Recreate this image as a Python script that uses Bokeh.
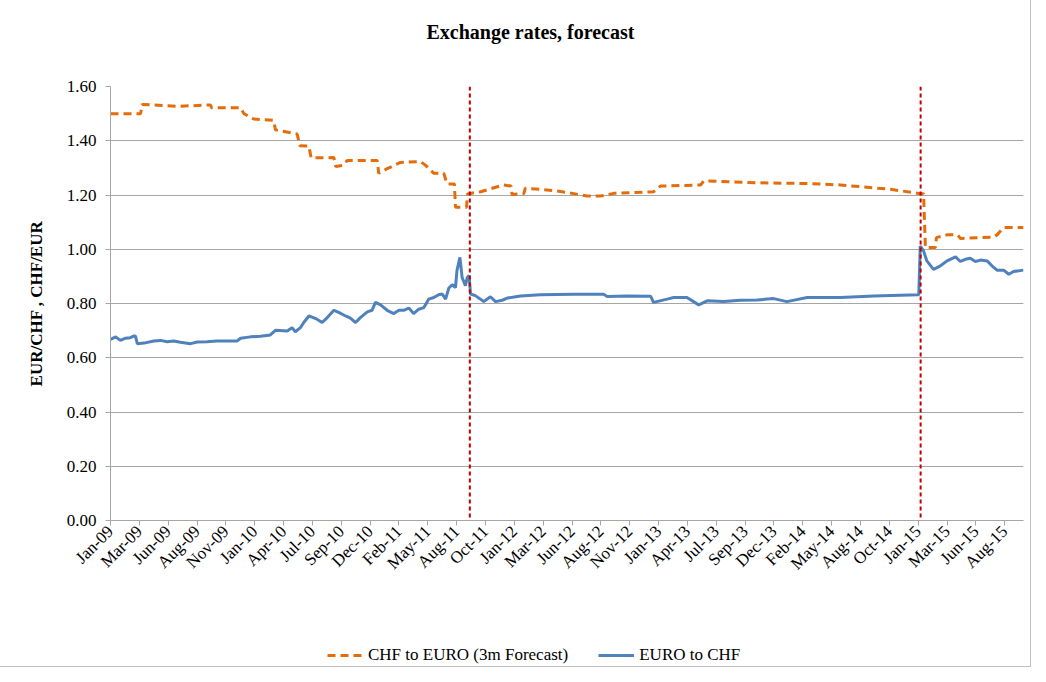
import numpy as np
import pandas as pd
from bokeh.plotting import figure
from bokeh.layouts import column
from bokeh.models import (Range1d, FixedTicker, NumeralTickFormatter, Span,
                          Legend, LegendItem, ColumnDataSource, Title)
from bokeh.embed import file_html
from bokeh.resources import INLINE

# ---------------- data ----------------
title_text = "Exchange rates, forecast"
y_label = "EUR/CHF , CHF/EUR"
series_names = ["CHF to EURO (3m Forecast)", "EURO to CHF"]

tick_labels = ["Jan-09", "Mar-09", "Jun-09", "Aug-09", "Nov-09", "Jan-10", "Apr-10",
               "Jul-10", "Sep-10", "Dec-10", "Feb-11", "May-11", "Aug-11", "Oct-11",
               "Jan-12", "Mar-12", "Jun-12", "Aug-12", "Nov-12", "Jan-13", "Apr-13",
               "Jul-13", "Sep-13", "Dec-13", "Feb-14", "May-14", "Aug-14", "Oct-14",
               "Jan-15", "Mar-15", "Jun-15", "Aug-15"]
y_ticks = [0.0, 0.2, 0.4, 0.6, 0.8, 1.0, 1.2, 1.4, 1.6]

forecast_dates = ["2009-01-01", "2009-03-24", "2009-03-28", "2009-07-01", "2009-09-30",
                  "2009-10-03", "2009-12-21", "2009-12-30", "2010-01-26", "2010-03-21",
                  "2010-03-26", "2010-05-24", "2010-05-31", "2010-06-25", "2010-07-01",
                  "2010-09-01", "2010-09-06", "2010-09-28", "2010-10-07", "2010-12-28",
                  "2011-01-01", "2011-01-24", "2011-03-01", "2011-04-25", "2011-05-08",
                  "2011-05-31", "2011-06-27", "2011-07-06", "2011-07-26", "2011-07-29",
                  "2011-08-28", "2011-08-31", "2011-10-05", "2011-12-07", "2011-12-27",
                  "2011-12-30", "2012-01-31", "2012-02-04", "2012-03-16", "2012-05-01",
                  "2012-06-15", "2012-07-21", "2012-08-26", "2012-10-02", "2013-01-18",
                  "2013-02-06", "2013-05-26", "2013-06-04", "2013-10-27", "2014-03-21",
                  "2014-06-11", "2014-10-25", "2015-01-14", "2015-01-23", "2015-01-28",
                  "2015-02-24", "2015-02-27", "2015-03-28", "2015-04-26", "2015-05-03",
                  "2015-08-02", "2015-08-11", "2015-08-29", "2015-10-22"]
forecast_values = [1.500, 1.500, 1.534, 1.527, 1.532,
                   1.522, 1.522, 1.500, 1.480, 1.475,
                   1.440, 1.425, 1.382, 1.380, 1.337,
                   1.338, 1.305, 1.310, 1.327, 1.327,
                   1.280, 1.297, 1.320, 1.323, 1.310,
                   1.280, 1.280, 1.241, 1.241, 1.155,
                   1.155, 1.204, 1.212, 1.237, 1.233,
                   1.202, 1.205, 1.225, 1.221, 1.215,
                   1.205, 1.196, 1.196, 1.206, 1.212,
                   1.233, 1.237, 1.252, 1.245, 1.242,
                   1.237, 1.221, 1.205, 1.205, 1.006,
                   1.006, 1.043, 1.053, 1.053, 1.040,
                   1.045, 1.053, 1.080, 1.080]

spot_dates = ["2009-01-01", "2009-01-15", "2009-01-28", "2009-02-11", "2009-02-24",
              "2009-03-05", "2009-03-10", "2009-03-15", "2009-04-02", "2009-04-29",
              "2009-05-17", "2009-06-04", "2009-06-22", "2009-07-10", "2009-08-07",
              "2009-08-25", "2009-09-21", "2009-10-18", "2009-12-12", "2009-12-21",
              "2010-01-17", "2010-02-13", "2010-03-12", "2010-03-26", "2010-04-27",
              "2010-05-10", "2010-05-19", "2010-06-02", "2010-06-11", "2010-06-25",
              "2010-07-17", "2010-07-31", "2010-08-14", "2010-09-01", "2010-09-14",
              "2010-10-03", "2010-10-16", "2010-10-30", "2010-11-12", "2010-12-01",
              "2010-12-14", "2010-12-23", "2011-01-06", "2011-01-24", "2011-02-11",
              "2011-02-25", "2011-03-10", "2011-03-24", "2011-04-06", "2011-04-20",
              "2011-05-04", "2011-05-17", "2011-05-31", "2011-06-13", "2011-06-23",
              "2011-07-02", "2011-07-11", "2011-07-20", "2011-07-29", "2011-08-02",
              "2011-08-10", "2011-08-16", "2011-08-25", "2011-08-30", "2011-09-04",
              "2011-09-08", "2011-09-21", "2011-10-05", "2011-10-14", "2011-11-01",
              "2011-11-15", "2011-12-03", "2011-12-17", "2012-01-22", "2012-03-16",
              "2012-06-15", "2012-09-04", "2012-09-14", "2012-11-07", "2013-01-10",
              "2013-01-18", "2013-02-24", "2013-03-14", "2013-04-19", "2013-05-21",
              "2013-06-13", "2013-07-28", "2013-09-11", "2013-10-27", "2013-12-11",
              "2014-01-16", "2014-03-12", "2014-06-11", "2014-09-09", "2015-01-10",
              "2015-01-14", "2015-01-23", "2015-02-01", "2015-02-19", "2015-03-10",
              "2015-03-28", "2015-04-20", "2015-05-03", "2015-05-17", "2015-05-30",
              "2015-06-13", "2015-06-27", "2015-07-15", "2015-07-28", "2015-08-11",
              "2015-08-29", "2015-09-12", "2015-09-25", "2015-10-22"]
spot_values = [0.668, 0.677, 0.664, 0.672, 0.674,
               0.680, 0.680, 0.652, 0.654, 0.662,
               0.664, 0.659, 0.662, 0.657, 0.652,
               0.658, 0.659, 0.662, 0.662, 0.672,
               0.677, 0.679, 0.684, 0.701, 0.699,
               0.711, 0.696, 0.711, 0.730, 0.754,
               0.742, 0.730, 0.748, 0.775, 0.767,
               0.754, 0.746, 0.730, 0.748, 0.769,
               0.775, 0.804, 0.795, 0.775, 0.763,
               0.775, 0.775, 0.783, 0.763, 0.779,
               0.785, 0.816, 0.822, 0.832, 0.835,
               0.816, 0.857, 0.869, 0.859, 0.921,
               0.970, 0.896, 0.866, 0.896, 0.903,
               0.835, 0.829, 0.816, 0.807, 0.825,
               0.807, 0.812, 0.820, 0.828, 0.832,
               0.834, 0.834, 0.826, 0.828, 0.827,
               0.804, 0.816, 0.822, 0.822, 0.795,
               0.810, 0.807, 0.812, 0.813, 0.818,
               0.807, 0.822, 0.822, 0.828, 0.832,
               1.012, 0.994, 0.957, 0.926, 0.939,
               0.957, 0.972, 0.955, 0.963, 0.967,
               0.955, 0.960, 0.957, 0.939, 0.923,
               0.923, 0.908, 0.918, 0.923]

event_dates = ["2011-09-06", "2015-01-15"]

x_start = "2009-01-01"
x_end = "2015-10-22"
tick_step_days = 78.51

# ---------------- styling ----------------
FONT = "Liberation Serif"
ORANGE = "#E46C0A"
BLUE = "#4F81BD"
RED = "#C00000"
GRID = "#A6A6A6"

def to_ms(d):
    return pd.Timestamp(d).value / 1e6

start_ms = to_ms(x_start)
end_ms = to_ms(x_end)
tick_pos = [int(round(start_ms + i * tick_step_days * 86400000)) for i in range(len(tick_labels))]

p = figure(width=1030, height=636, x_axis_type="datetime",
           output_backend="svg", toolbar_location=None, title=None,
           x_range=Range1d(start_ms, end_ms), y_range=Range1d(0, 1.6),
           min_border_left=110, min_border_right=7,
           min_border_top=86, min_border_bottom=116)
p.outline_line_color = None
p.background_fill_color = "white"
p.border_fill_color = "white"

# title (spacer first, nearest the frame, then the real title)
p.add_layout(Title(text=" ", text_font_size="10px", standoff=26), "above")
p.add_layout(Title(text=title_text, align="left", offset=316,
                   text_font=FONT, text_font_size="20px", text_font_style="bold",
                   text_color="black", standoff=10), "above")

# grid
p.xgrid.grid_line_color = None
p.ygrid.grid_line_color = GRID
p.ygrid.grid_line_width = 1

# y axis
ya = p.yaxis[0]
ya.ticker = FixedTicker(ticks=y_ticks)
ya.formatter = NumeralTickFormatter(format="0.00")
ya.axis_label = y_label
ya.axis_label_text_font = FONT
ya.axis_label_text_font_size = "17px"
ya.axis_label_text_font_style = "bold"
ya.axis_label_text_color = "black"
ya.axis_label_standoff = 18
ya.major_label_text_font = FONT
ya.major_label_text_font_size = "17px"
ya.major_label_text_color = "black"
ya.major_label_standoff = 9
ya.axis_line_color = GRID
ya.major_tick_line_color = GRID
ya.major_tick_out = 5
ya.major_tick_in = 0
ya.minor_tick_line_color = None

# x axis
xa = p.xaxis[0]
xa.ticker = FixedTicker(ticks=tick_pos)
xa.major_label_overrides = {t: lab for t, lab in zip(tick_pos, tick_labels)}
xa.major_label_orientation = np.pi / 4
xa.major_label_text_font = FONT
xa.major_label_text_font_size = "17px"
xa.major_label_text_color = "black"
xa.major_label_standoff = 3
xa.axis_line_color = GRID
xa.major_tick_line_color = GRID
xa.major_tick_out = 5
xa.major_tick_in = 0
xa.minor_tick_line_color = None

# series
src_f = ColumnDataSource(dict(x=pd.to_datetime(forecast_dates), y=forecast_values))
src_s = ColumnDataSource(dict(x=pd.to_datetime(spot_dates), y=spot_values))
p.line("x", "y", source=src_f, line_color=ORANGE, line_width=3, line_dash="8 5")
p.line("x", "y", source=src_s, line_color=BLUE, line_width=3)

# event lines
for d in event_dates:
    p.add_layout(Span(location=to_ms(d), dimension="height", line_color=RED,
                      line_width=2, line_dash="4 3"))

# ---------------- legend strip ----------------
lg = figure(width=1030, height=30, output_backend="svg", toolbar_location=None,
            x_range=Range1d(0, 1), y_range=Range1d(0, 1),
            x_axis_location=None, y_axis_location=None,
            min_border_left=0, min_border_right=0, min_border_top=0, min_border_bottom=0)
lg.outline_line_color = None
lg.xgrid.grid_line_color = None
lg.ygrid.grid_line_color = None
# key renderers sit outside the strip's visible range; only their legend swatches show
offscreen = ColumnDataSource(dict(x=[-5, -4], y=[-5, -4]))
k_f = lg.line("x", "y", source=offscreen, line_color=ORANGE, line_width=3, line_dash="8 5")
k_s = lg.line("x", "y", source=offscreen, line_color=BLUE, line_width=3)
legend = Legend(items=[LegendItem(label=series_names[0], renderers=[k_f]),
                       LegendItem(label=series_names[1], renderers=[k_s])],
                location=(217, 1), orientation="horizontal",
                border_line_alpha=0, background_fill_alpha=0,
                label_text_font=FONT, label_text_font_size="17px",
                label_text_color="black", glyph_width=36, glyph_height=16,
                label_height=16, spacing=30,
                label_standoff=5, padding=0, margin=0)
lg.add_layout(legend, "center")

layout = column(p, lg, spacing=0, styles={"outline": "1px solid #BFBFBF"})

open("out.html", "w").write(file_html(layout, INLINE))
